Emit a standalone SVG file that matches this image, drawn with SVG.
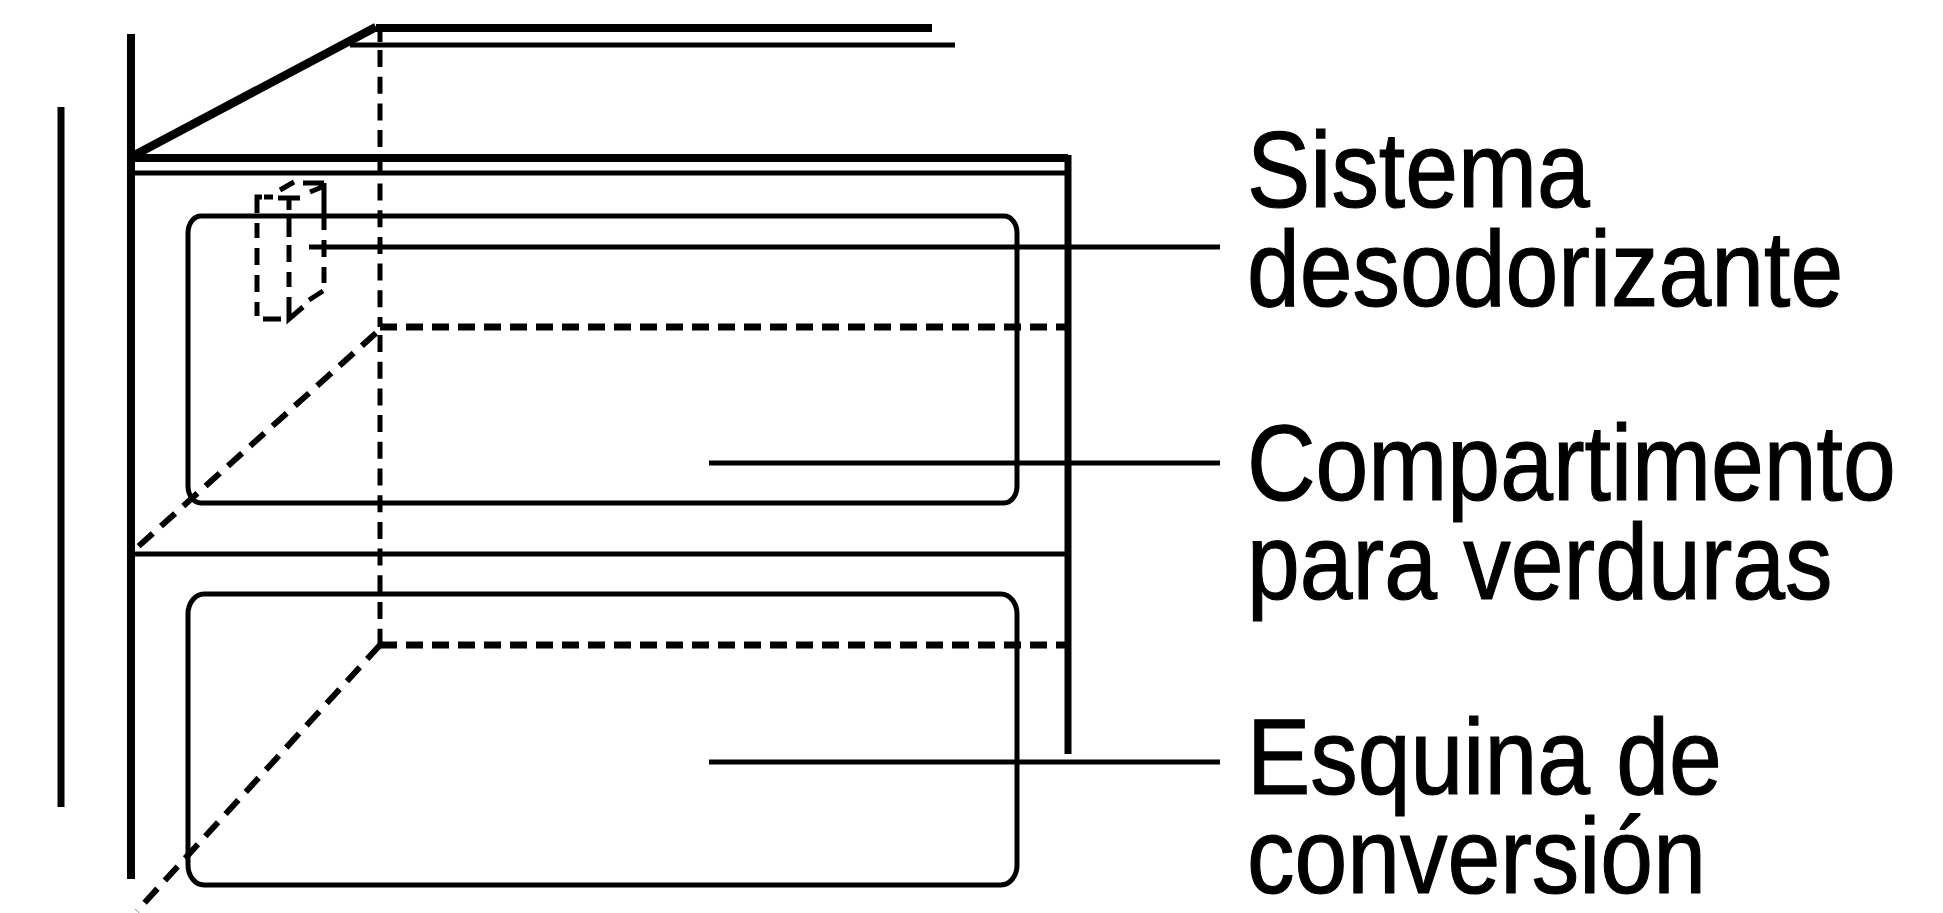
<svg xmlns="http://www.w3.org/2000/svg" width="1943" height="913" viewBox="0 0 1943 913">
<style>
.thick{fill:none;stroke:#000;stroke-width:8}
.mid{fill:none;stroke:#000;stroke-width:7}
.diag{fill:none;stroke:#000;stroke-width:8.5}
.thin{fill:none;stroke:#000;stroke-width:5}
.dv{fill:none;stroke:#000;stroke-width:5;stroke-dasharray:17 9.7}
.dh{fill:none;stroke:#000;stroke-width:7;stroke-dasharray:17 9}
.dd{fill:none;stroke:#000;stroke-width:6;stroke-dasharray:19 11}
.ds{fill:none;stroke:#000;stroke-width:5}
.label{font-family:"Liberation Sans",Arial,sans-serif;font-size:107px;fill:#000;stroke:#000;stroke-width:1.2}
</style>
<rect width="1943" height="913" fill="#fff"/>
<g id="cabinet">
<path class="mid" d="M61 107V807"/>
<path class="thick" d="M131 34V879"/>
<path class="diag" d="M131 157L376 27"/>
<path class="thick" d="M376 28H932"/>
<path class="thin" d="M350 45H955"/>
<path class="thick" d="M131 158H1068"/>
<path class="thin" d="M131 173H1068"/>
<path class="mid" d="M1068 155V754"/>
<path class="thin" d="M131 554H1068"/>
</g>
<g id="hidden-edges">
<path class="thin" d="M380 28V42"/>
<path class="dv" d="M380 50V327"/>
<path class="dv" d="M380 333V645" stroke-dashoffset="-2"/>
<path class="dh" d="M380 327H1068"/>
<path class="dh" d="M380 645H1068"/>
<path class="dd" d="M376 333L131 553"/>
<path class="dd" d="M380 645L137 911"/>
</g>
<g id="compartimento-para-verduras">
<rect class="thin" x="188" y="216" width="829" height="287" rx="13" ry="17"/>
</g>
<g id="esquina-de-conversion">
<rect class="thin" x="188" y="594" width="829" height="291" rx="16" ry="20"/>
</g>
<g id="sistema-desodorizante">
<path class="ds" d="M257 213V197H262M264 197H273M257 223V238M257 248V265M257 275V292M257 302V316M263 319H281M278 198H300M289 198V210M289 217V237M289 245V262M289 272V287M289 297V319L303 307M309 300L323 291M324 283V267M324 240V257M324 217V230M324 203V214M324 183V203M303 183H324M310 192L322 187M280 190L294 182"/>
</g>
<g id="connectors">
<path class="thin" d="M309 247H1220"/>
<path class="thin" d="M709 463H1220"/>
<path class="thin" d="M709 762H1220"/>
</g>
<g id="labels" transform="translate(1247 0) scale(.887 1)">
<text class="label" x="0" y="207">Sistema</text>
<text class="label" x="0" y="306">desodorizante</text>
<text class="label" x="0" y="500">Compartimento</text>
<text class="label" x="0" y="599">para verduras</text>
<text class="label" x="0" y="794">Esquina de</text>
<text class="label" x="0" y="893">conversión</text>
</g>
</svg>
